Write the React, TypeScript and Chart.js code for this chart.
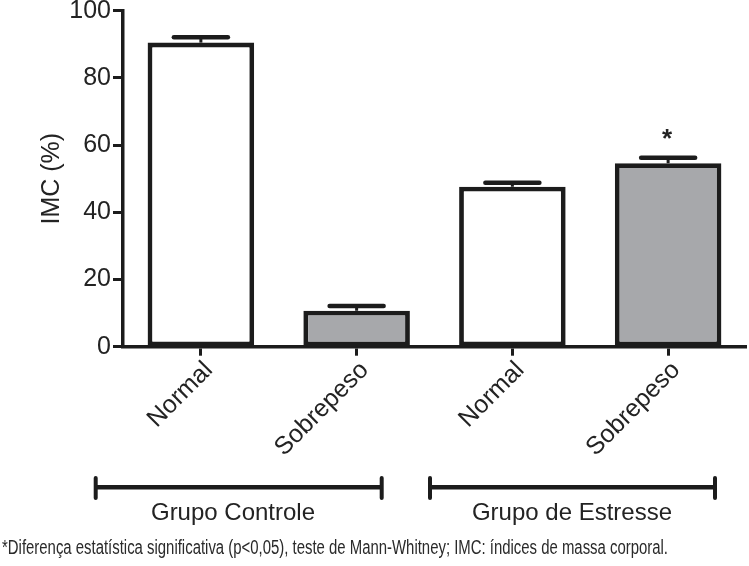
import React, { useEffect, useRef } from 'react';
import { Chart, registerables } from 'chart.js';

Chart.register(...registerables);

// ---- data ----
const categories = ['Normal', 'Sobrepeso', 'Normal', 'Sobrepeso'];
const meanValues = [90.5, 10.7, 47.6, 54.6];
const semValues = [1.6, 1.4, 1.2, 1.6];
const significance = ['', '', '', '*'];
const yTickValues = [0, 20, 40, 60, 80, 100];
const groupLabels = ['Grupo Controle', 'Grupo de Estresse'];
const yAxisTitle = 'IMC (%)';
const footnote =
  '*Diferença estatística significativa (p<0,05), teste de Mann-Whitney; IMC: índices de massa corporal.';

// ---- styles / layout ----
const W = 749;
const H = 566;
const INK = '#1c1c1c';
const TEXT = '#232323';
const barFill = ['#ffffff', '#a7a8ab', '#ffffff', '#a7a8ab'];
const groupBrackets = [
  { x0: 95.7, x1: 381.7, cx: 233 },
  { x0: 430, x1: 715, cx: 572 },
];

const annotations = {
  id: 'annotations',
  afterDatasetsDraw(chart: any) {
    const { ctx } = chart;
    const y = chart.scales.y;
    const meta = chart.getDatasetMeta(0);
    ctx.save();
    ctx.strokeStyle = INK;
    meta.data.forEach((bar: any, i: number) => {
      const x = bar.x;
      const yBar = y.getPixelForValue(meanValues[i]);
      const yTop = y.getPixelForValue(meanValues[i] + semValues[i]);
      ctx.lineCap = 'butt';
      ctx.lineWidth = 3;
      ctx.beginPath();
      ctx.moveTo(x, yBar);
      ctx.lineTo(x, yTop);
      ctx.stroke();
      ctx.lineCap = 'round';
      ctx.lineWidth = 4.5;
      ctx.beginPath();
      ctx.moveTo(x - 27, yTop);
      ctx.lineTo(x + 27, yTop);
      ctx.stroke();
      if (significance[i]) {
        ctx.fillStyle = TEXT;
        ctx.font = 'bold 26px "Liberation Sans", Arial, sans-serif';
        ctx.textAlign = 'center';
        ctx.textBaseline = 'alphabetic';
        ctx.fillText(significance[i], x - 1, yTop - 11);
      }
    });
    ctx.restore();
  },
  afterDraw(chart: any) {
    const { ctx } = chart;
    ctx.save();
    ctx.strokeStyle = INK;
    groupBrackets.forEach((b, i) => {
      ctx.lineCap = 'butt';
      ctx.lineWidth = 4.5;
      ctx.beginPath();
      ctx.moveTo(b.x0, 487.3);
      ctx.lineTo(b.x1, 487.3);
      ctx.stroke();
      ctx.lineCap = 'round';
      ctx.lineWidth = 4;
      [b.x0, b.x1].forEach((xx) => {
        ctx.beginPath();
        ctx.moveTo(xx, 478);
        ctx.lineTo(xx, 498);
        ctx.stroke();
      });
      ctx.fillStyle = TEXT;
      ctx.font = '24px "Liberation Sans", Arial, sans-serif';
      ctx.textAlign = 'center';
      ctx.textBaseline = 'alphabetic';
      ctx.fillText(groupLabels[i], b.cx, 520);
    });
    ctx.fillStyle = '#2a2a2a';
    ctx.font = '20px "Liberation Sans", Arial, sans-serif';
    ctx.textAlign = 'left';
    ctx.textBaseline = 'alphabetic';
    const target = 666;
    const w = ctx.measureText(footnote).width;
    ctx.translate(2, 553.5);
    ctx.scale(target / w, 1);
    ctx.fillText(footnote, 0, 0);
    ctx.restore();
  },
};

export default function App() {
  const ref = useRef<HTMLCanvasElement>(null);
  useEffect(() => {
    const chart = new Chart(ref.current as HTMLCanvasElement, {
      type: 'bar',
      data: {
        labels: categories,
        datasets: [
          {
            data: meanValues,
            backgroundColor: barFill,
            borderColor: INK,
            borderWidth: 4.8,
            borderSkipped: false,
            barPercentage: 0.684,
            categoryPercentage: 1,
          },
        ],
      },
      options: {
        responsive: false,
        animation: false,
        devicePixelRatio: 1,
        layout: { padding: { top: 10.7, right: 3, bottom: 0, left: 0 } },
        plugins: { legend: { display: false }, tooltip: { enabled: false } },
        scales: {
          x: {
            offset: true,
            grid: {
              display: true,
              drawOnChartArea: false,
              drawTicks: true,
              tickLength: 9,
              tickWidth: 3,
              tickColor: INK,
              offset: false,
            },
            border: { display: true, width: 3.5, color: INK },
            ticks: {
              color: TEXT,
              font: { size: 25, family: '"Liberation Sans", Arial, sans-serif' },
              maxRotation: 45,
              minRotation: 45,
              padding: 0,
              labelOffset: 8,
              autoSkip: false,
            },
            afterFit: (s: any) => {
              s.height = H - 346.7;
              s.paddingLeft = 0;
              s.paddingRight = 0;
            },
          },
          y: {
            min: 0,
            max: 100,
            afterBuildTicks: (s: any) => {
              s.ticks = yTickValues.map((v) => ({ value: v }));
            },
            grid: {
              display: true,
              drawOnChartArea: false,
              drawTicks: true,
              tickLength: 10,
              tickWidth: 3,
              tickColor: INK,
            },
            border: { display: true, width: 3.5, color: INK },
            ticks: {
              color: TEXT,
              font: { size: 25, family: '"Liberation Sans", Arial, sans-serif' },
              padding: 2,
            },
            title: {
              display: true,
              text: yAxisTitle,
              color: TEXT,
              font: { size: 25, family: '"Liberation Sans", Arial, sans-serif' },
              padding: { top: 37, bottom: 0 },
            },
            afterFit: (s: any) => {
              s.width = 123;
              s.paddingTop = 0;
              s.paddingBottom = 0;
            },
          },
        },
      },
      plugins: [annotations],
    });
    return () => chart.destroy();
  }, []);
  return (
    <div style={{ position: 'absolute', left: 0, top: 0, width: W, height: H, background: '#fff' }}>
      <canvas ref={ref} width={W} height={H} />
    </div>
  );
}
